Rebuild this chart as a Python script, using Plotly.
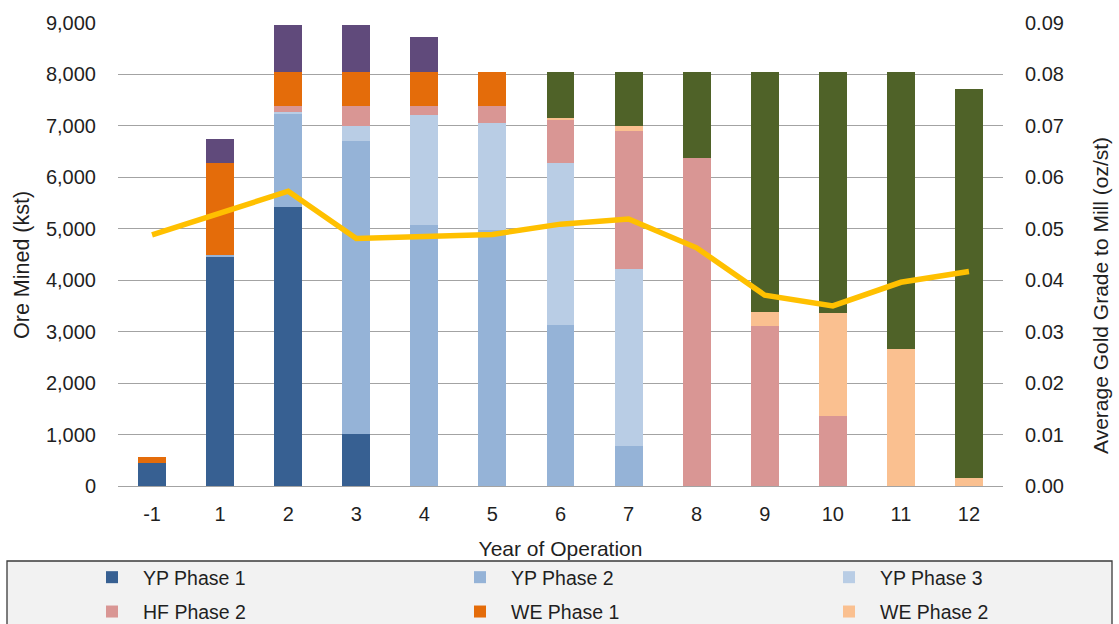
import plotly.graph_objects as go

# ---------------- data ----------------
years = ["-1", "1", "2", "3", "4", "5", "6", "7", "8", "9", "10", "11", "12"]
yp_phase1 = [440, 4460, 5420, 1020, 0, 0, 0, 0, 0, 0, 0, 0, 0]
yp_phase2 = [0, 30, 1805, 5690, 5070, 4980, 3130, 785, 0, 0, 0, 0, 0]
yp_phase3 = [0, 0, 45, 290, 2150, 2070, 3140, 3435, 0, 0, 0, 0, 0]
hf_phase2 = [0, 0, 115, 385, 160, 335, 855, 2690, 6380, 3115, 1365, 0, 0]
we_phase1 = [120, 1780, 660, 660, 660, 660, 0, 0, 0, 0, 0, 0, 0]
we_phase2 = [0, 0, 0, 0, 0, 0, 20, 80, 0, 275, 2000, 2655, 155]
gs_phase1 = [0, 470, 915, 915, 685, 0, 0, 0, 0, 0, 0, 0, 0]
gs_phase2 = [0, 0, 0, 0, 0, 0, 900, 1065, 1670, 4660, 4685, 5395, 7560]
avg_grade = [0.0488, 0.0531, 0.0573, 0.0481, 0.0486, 0.0489, 0.0509, 0.0519,
             0.0463, 0.0371, 0.0350, 0.0396, 0.0417]

left_ticks = list(range(0, 9001, 1000))
right_ticks = [i / 100 for i in range(0, 10)]

# ---------------- style ----------------
W, H = 1119, 624
ML, MR, MT, MB = 118, 116, 23, 138
FONT = "Liberation Sans, Arial, sans-serif"
TXT = "#1f1f1f"
GRID = "#a3a3a3"

# (name, values, colour, legend column, entry visible inside the frame)
series = [
    ("YP Phase 1", yp_phase1, "#376092", "legend", True),
    ("YP Phase 2", yp_phase2, "#95B3D7", "legend2", True),
    ("YP Phase 3", yp_phase3, "#B9CDE5", "legend3", True),
    ("HF Phase 2", hf_phase2, "#D99694", "legend", True),
    ("WE Phase 1", we_phase1, "#E46C0A", "legend2", True),
    ("WE Phase 2", we_phase2, "#FAC090", "legend3", True),
    ("GS Phase 1", gs_phase1, "#604A7B", "legend", False),
    ("GS Phase 2", gs_phase2, "#4F6228", "legend2", False),
]

fig = go.Figure()
for name, vals, col, leg, show in series:
    fig.add_trace(go.Bar(
        x=years, y=vals, name=name, marker=dict(color=col, line=dict(width=0)),
        legend=leg, legendgroup=name, showlegend=show, yaxis="y",
    ))

fig.add_trace(go.Scatter(
    x=years, y=avg_grade, name="Average Grade to Mill", mode="lines",
    line=dict(color="#FFC000", width=5.5), yaxis="y2",
    legend="legend3", legendgroup="grade", showlegend=False,
))

pw = W - ML - MR
ph = H - MT - MB


def px_x(p):
    return (p - ML) / pw


def px_y(p):
    return (H - MB - p) / ph


LEG_SIZE = 19.5
leg_common = dict(
    orientation="v", xref="container", yref="container", xanchor="left", yanchor="top",
    bgcolor="rgba(0,0,0,0)", borderwidth=0, itemwidth=52, tracegroupgap=6,
    traceorder="grouped", font=dict(family=FONT, size=LEG_SIZE, color=TXT),
    itemclick=False, itemdoubleclick=False,
)
leg_top = 1 - 558 / H

fig.update_layout(
    width=W, height=H,
    margin=dict(l=ML, r=MR, t=MT, b=MB, autoexpand=False),
    paper_bgcolor="white", plot_bgcolor="white",
    barmode="stack", bargap=0.59,
    font=dict(family=FONT, size=20, color=TXT),
    xaxis=dict(
        type="category", categoryorder="array", categoryarray=years,
        showgrid=False, showline=False, ticks="", ticklabelstandoff=14,
        tickfont=dict(size=20),
        title=dict(text="Year of Operation", font=dict(size=21), standoff=17),
    ),
    yaxis=dict(
        range=[0, 9000], tickvals=left_ticks, tickformat=",", showgrid=True,
        gridcolor=GRID, gridwidth=1.3, zeroline=True, zerolinecolor=GRID,
        zerolinewidth=1.3, showline=False, ticks="", ticklabelstandoff=21,
        tickfont=dict(size=20),
    ),
    yaxis2=dict(
        range=[0, 0.09], tickvals=right_ticks, tickformat=".2f", overlaying="y",
        side="right", showgrid=False, zeroline=False, showline=False, ticks="",
        ticklabelstandoff=21, tickfont=dict(size=20),
    ),
    legend=dict(x=81 / W, y=leg_top, **leg_common),
    legend2=dict(x=449 / W, y=leg_top, **leg_common),
    legend3=dict(x=818 / W, y=leg_top, **leg_common),
    shapes=[dict(
        type="rect", xref="paper", yref="paper", layer="below",
        x0=px_x(7), x1=px_x(1112), y0=px_y(700), y1=px_y(561),
        fillcolor="#F2F2F2", line=dict(color="#3a3a3a", width=1.3),
    )],
    annotations=[
        dict(
            text="Ore Mined (kst)", textangle=-90,
            xref="paper", yref="paper", x=px_x(22), y=px_y(265),
            xanchor="center", yanchor="middle", showarrow=False,
            font=dict(family=FONT, size=21.5, color=TXT),
        ),
        dict(
            text="Average Gold Grade to Mill (oz/st)", textangle=-90,
            xref="paper", yref="paper", x=px_x(1100), y=px_y(296),
            xanchor="center", yanchor="middle", showarrow=False,
            font=dict(family=FONT, size=21, color=TXT),
        ),
    ],
)

fig.write_html("out.html", config={"displayModeBar": False},
               post_script="document.body.style.margin='0px';")
